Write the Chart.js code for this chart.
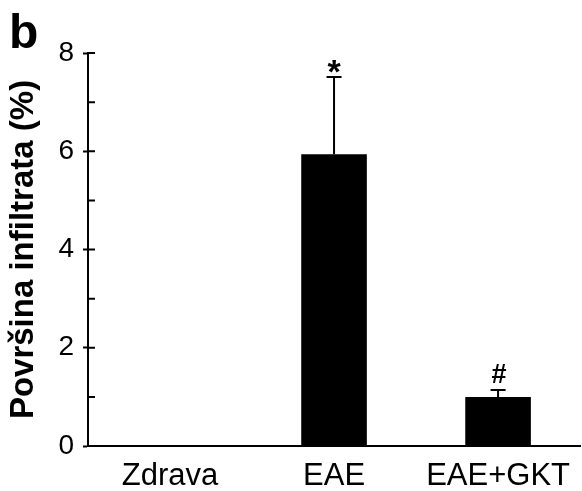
<!DOCTYPE html>
<html>
<head>
<meta charset="utf-8">
<script src="https://cdn.jsdelivr.net/npm/chart.js@4.4.1/dist/chart.umd.min.js"></script>
<style>
  html, body { margin: 0; padding: 0; background: #fff; }
  canvas { display: block; }
</style>
</head>
<body>
<canvas id="infiltrat" width="582" height="491"></canvas>
<script>
// podaci
const categories = ["Zdrava", "EAE", "EAE+GKT"];
const means = [0, 5.94, 1.0];
const errors = [0, 1.57, 0.14];
const marks = ["", "*", "#"];
const yLabels = [0, 2, 4, 6, 8];

const FONT = "'Liberation Sans', Arial, Helvetica, sans-serif";

// error bars, oznake i slovo "b"
const extras = {
  id: "extras",
  afterDatasetsDraw(chart) {
    const ctx = chart.ctx;
    const y = chart.scales.y;
    const meta = chart.getDatasetMeta(0);
    ctx.save();
    ctx.strokeStyle = "#000";
    ctx.lineWidth = 2;
    meta.data.forEach((bar, i) => {
      if (!errors[i]) return;
      const yb = y.getPixelForValue(means[i]);
      const yt = y.getPixelForValue(means[i] + errors[i]);
      ctx.beginPath();
      ctx.moveTo(bar.x, yb);
      ctx.lineTo(bar.x, yt);
      ctx.moveTo(bar.x - 7.5, yt);
      ctx.lineTo(bar.x + 7.5, yt);
      ctx.stroke();
    });
    ctx.fillStyle = "#000";
    ctx.textAlign = "center";
    ctx.textBaseline = "alphabetic";
    meta.data.forEach((bar, i) => {
      if (!marks[i]) return;
      const yt = y.getPixelForValue(means[i] + errors[i]);
      if (marks[i] === "*") {
        ctx.font = "bold 34px " + FONT;
        ctx.fillText("*", bar.x, yt + 6);
      } else {
        ctx.font = "bold 27px " + FONT;
        ctx.fillText(marks[i], bar.x + 1, yt - 7);
      }
    });
    // unutrasnje crtice na y osi
    ctx.lineWidth = 2;
    ctx.beginPath();
    for (let v = 1; v <= 8; v++) {
      const py = y.getPixelForValue(v);
      ctx.moveTo(chart.chartArea.left, py);
      ctx.lineTo(chart.chartArea.left + 7, py);
    }
    ctx.stroke();
    ctx.textAlign = "left";
    ctx.font = "bold 48px " + FONT;
    ctx.fillText("b", 9, 48);
    ctx.restore();
  }
};

new Chart(document.getElementById("infiltrat"), {
  type: "bar",
  data: {
    labels: categories,
    datasets: [{
      data: means,
      backgroundColor: "#000",
      borderWidth: 0,
      barPercentage: 0.4,
      categoryPercentage: 1
    }]
  },
  options: {
    responsive: false,
    animation: false,
    layout: { padding: { top: 53, right: 0, left: 0, bottom: 0 } },
    plugins: {
      legend: { display: false },
      tooltip: { enabled: false }
    },
    scales: {
      x: {
        afterFit: s => { s.height = 45; },
        grid: { display: true, drawOnChartArea: false, drawTicks: false },
        border: { display: true, color: "#000", width: 2 },
        ticks: {
          color: "#000",
          padding: 12,
          font: { family: FONT, size: 31 }
        }
      },
      y: {
        min: 0,
        max: 8,
        afterFit: s => { s.width = 88; },
        afterBuildTicks: s => {
          s.ticks = yLabels.map(v => ({ value: v }));
        },
        grid: {
          drawOnChartArea: false,
          drawTicks: true,
          tickLength: 5,
          tickWidth: 2,
          tickColor: "#000"
        },
        border: { display: true, color: "#000", width: 2 },
        ticks: {
          color: "#000",
          padding: 9,
          font: { family: FONT, size: 28 }
        },
        title: {
          display: true,
          text: "Površina infiltrata (%)",
          color: "#000",
          padding: { top: 4, bottom: 0 },
          font: { family: FONT, size: 33, weight: "bold" }
        }
      }
    }
  },
  plugins: [extras]
});
</script>
</body>
</html>
